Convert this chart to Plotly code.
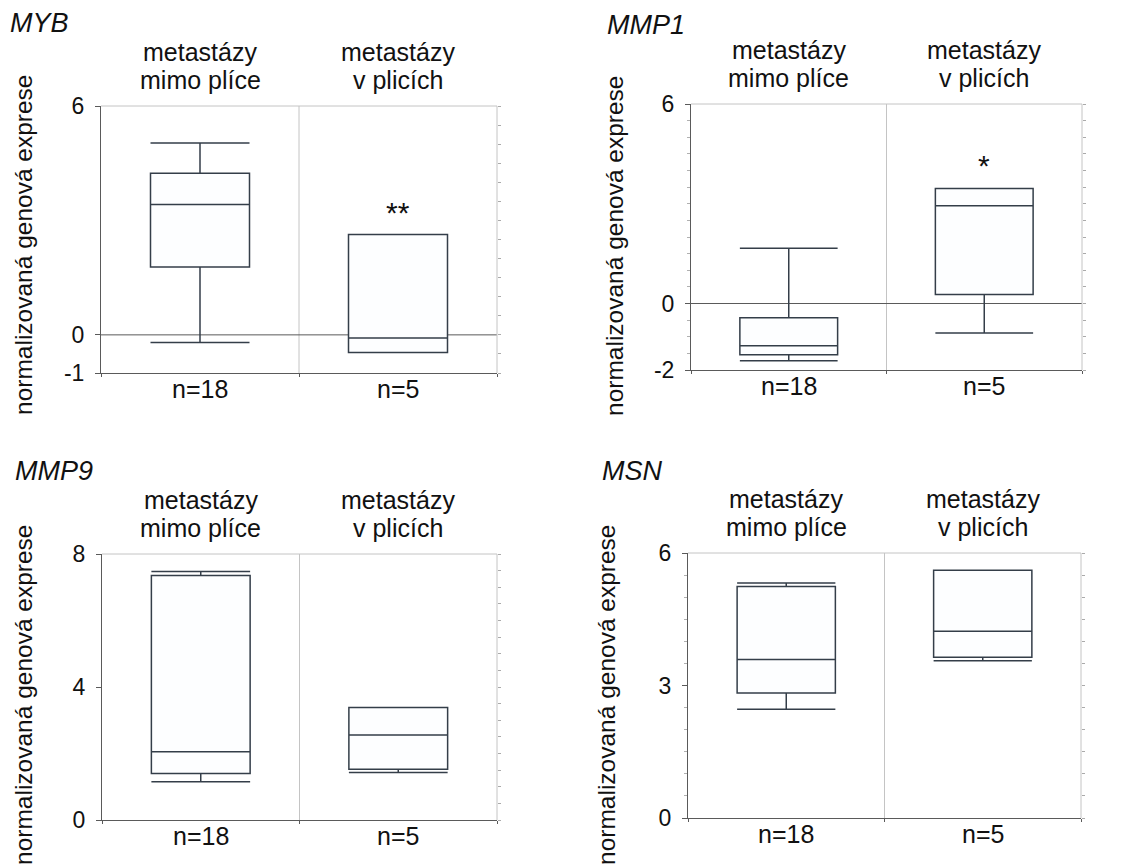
import plotly.graph_objects as go

W, H = 1124, 866

# ---------------- data ----------------
genes = ["MYB", "MMP1", "MMP9", "MSN"]
cat_line1 = ["metastázy", "metastázy"]
cat_line2 = ["mimo plíce", "v plicích"]
n_labels = ["n=18", "n=5"]
cat_x = [0, 1]

myb_low = [-0.20, -0.46]
myb_q1 = [1.78, -0.46]
myb_med = [3.42, -0.08]
myb_q3 = [4.24, 2.63]
myb_up = [5.03, 2.63]

mmp1_low = [-1.72, -0.89]
mmp1_q1 = [-1.54, 0.27]
mmp1_med = [-1.27, 2.94]
mmp1_q3 = [-0.43, 3.46]
mmp1_up = [1.66, 3.46]

mmp9_low = [1.15, 1.43]
mmp9_q1 = [1.40, 1.53]
mmp9_med = [2.05, 2.56]
mmp9_q3 = [7.35, 3.38]
mmp9_up = [7.47, 3.38]

msn_low = [2.46, 3.56]
msn_q1 = [2.83, 3.64]
msn_med = [3.59, 4.23]
msn_q3 = [5.24, 5.61]
msn_up = [5.32, 5.61]

y_ranges = [[-1, 6], [-2, 6], [0, 8], [0, 6]]
y_ticks = [[-1, 0, 6], [-2, 0, 6], [0, 4, 8], [0, 3, 6]]
signif = [["", "**"], ["", "*"], ["", ""], ["", ""]]
y_title = "normalizovaná genová exprese"

stats = [
    (myb_low, myb_q1, myb_med, myb_q3, myb_up),
    (mmp1_low, mmp1_q1, mmp1_med, mmp1_q3, mmp1_up),
    (mmp9_low, mmp9_q1, mmp9_med, mmp9_q3, mmp9_up),
    (msn_low, msn_q1, msn_med, msn_q3, msn_up),
]

# ---------------- layout geometry (target pixels) ----------------
panels = [(101, 497, 106, 373), (691, 1082, 104, 370),
          (102, 497, 554, 820), (688, 1081, 553, 818)]
title_pos = [(10, 33), (607, 35), (15, 480), (602, 480)]  # left x, baseline
ytitle_pos = [(23, 245), (614, 246), (23, 695), (606, 695)]
sig_y = [212, 165, None, None]
left_minor = [False, True, False, True]

FONT = "Liberation Sans, Arial, sans-serif"
BOX_LINE = "#343e49"
AXIS_DARK = "#5a5a5a"
FRAME_LIGHT = "#c4c4c4"
OFF = 8  # page body offset compensation

def px(x):
    return (x - OFF) / W

def py(y):
    return 1 - (y - OFF) / H

fig = go.Figure()
layout = dict(
    width=W, height=H,
    margin=dict(l=0, r=0, t=0, b=0, pad=0, autoexpand=False),
    paper_bgcolor="white", plot_bgcolor="white",
    showlegend=False, font=dict(family=FONT, color="#111", size=22),
)
annotations = []
shapes = []

def ann(text, x, y, xref, size, xanchor="center", yanchor="middle", **kw):
    d = dict(text=text, x=x, y=y, xref=xref, yref="paper", xanchor=xanchor,
             yanchor=yanchor, showarrow=False, borderpad=0, borderwidth=0,
             font=dict(size=size, family=FONT, color="#111"))
    d.update(kw)
    annotations.append(d)

for i, g in enumerate(genes):
    k = i + 1
    xa = "x" if k == 1 else f"x{k}"
    ya = "y" if k == 1 else f"y{k}"
    yr_name = f"y{k + 4}"
    L, R, T, B = panels[i]
    low, q1, med, q3, up = stats[i]
    for j in range(2):
        fig.add_trace(go.Box(
            x=[cat_x[j]], q1=[q1[j]], median=[med[j]], q3=[q3[j]],
            lowerfence=[low[j]], upperfence=[up[j]],
            width=0.5, whiskerwidth=1, boxpoints=False,
            line=dict(color=BOX_LINE, width=1.5),
            fillcolor="#fdfeff", xaxis=xa, yaxis=ya, hoverinfo="skip",
        ))
    fig.add_trace(go.Scatter(x=[None], y=[None], xaxis=xa, yaxis=yr_name,
                             showlegend=False, hoverinfo="skip"))

    ax_suffix = "" if k == 1 else str(k)
    layout[f"xaxis{ax_suffix}"] = dict(
        domain=[px(L), px(R)], range=[-0.5, 1.5], anchor=ya,
        showline=True, linecolor=AXIS_DARK, linewidth=1,
        ticks="outside", tickvals=[-0.5, 0.5, 1.5], ticklen=3,
        tickcolor=AXIS_DARK, showticklabels=False, automargin=False,
        showgrid=False, zeroline=False, fixedrange=True,
    )
    lo, hi = y_ranges[i]
    nt = int(round((hi - lo) / 0.5))
    half_steps = [lo + 0.5 * t for t in range(nt + 1)]
    yax = dict(
        domain=[py(B), py(T)], range=[lo, hi], anchor=xa,
        showline=True, linecolor=AXIS_DARK, linewidth=1,
        ticks="outside", tickvals=y_ticks[i],
        ticktext=[str(v) for v in y_ticks[i]], ticklen=5,
        tickcolor=AXIS_DARK, ticklabelstandoff=6, automargin=False,
        tickfont=dict(size=23, family=FONT, color="#111"),
        showgrid=False, zeroline=False, fixedrange=True,
    )
    if left_minor[i]:
        yax["minor"] = dict(tickmode="array",
                            tickvals=[v for v in half_steps if v not in y_ticks[i]],
                            ticks="outside", ticklen=3,
                            tickcolor="#b0b0b0", showgrid=False)
    layout[f"yaxis{ax_suffix}"] = yax
    layout[f"yaxis{k + 4}"] = dict(
        overlaying=ya, side="right", anchor=xa, range=[lo, hi],
        tickvals=half_steps,
        ticks="outside", ticklen=3, tickcolor="#aaaaaa",
        showticklabels=False, showline=False, showgrid=False,
        zeroline=False, fixedrange=True, automargin=False,
    )

    shapes.append(dict(type="line", xref=f"{xa} domain", yref=f"{ya} domain",
                       x0=0, x1=1, y0=1, y1=1,
                       line=dict(color=FRAME_LIGHT, width=1)))
    shapes.append(dict(type="line", xref=f"{xa} domain", yref=f"{ya} domain",
                       x0=1, x1=1, y0=0, y1=1,
                       line=dict(color=FRAME_LIGHT, width=1)))
    shapes.append(dict(type="line", xref=xa, yref=f"{ya} domain",
                       x0=0.5, x1=0.5, y0=0, y1=1, layer="below",
                       line=dict(color=FRAME_LIGHT, width=1)))
    if lo < 0:
        shapes.append(dict(type="line", xref=f"{xa} domain", yref=ya,
                           x0=0, x1=1, y0=0, y1=0, layer="below",
                           line=dict(color=AXIS_DARK, width=1)))

    # gene title (italic)
    tx, tb = title_pos[i]
    ann(f"<i>{g}</i>", px(tx), py(tb - 9.5), "paper", 27, xanchor="left")
    # y axis title
    yx, yy = ytitle_pos[i]
    ann(y_title, px(yx), py(yy), "paper", 24.5, textangle=-90)
    for j in range(2):
        # two stacked lines, boxes touching
        ann(cat_line1[j], cat_x[j], py(T - 40), xa, 25, yanchor="bottom")
        ann(cat_line2[j], cat_x[j], py(T - 40), xa, 25, yanchor="top")
        ann(n_labels[j], cat_x[j], py(B + 16), xa, 25)
        if signif[i][j]:
            ann(signif[i][j], cat_x[j], py(sig_y[i]), xa, 30)

layout["annotations"] = annotations
layout["shapes"] = shapes
fig.update_layout(**layout)
fig.write_html("out.html")
